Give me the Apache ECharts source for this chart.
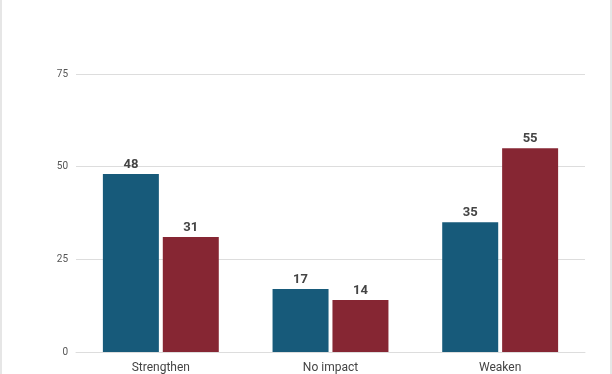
<!DOCTYPE html>
<html><head><meta charset="utf-8">
<script src="https://cdn.jsdelivr.net/npm/echarts@6/dist/echarts.min.js"></script>
<style>html,body{margin:0;padding:0;background:#fff;}
#c{width:612px;height:374px;box-sizing:border-box;border-left:2px solid #e6e6e6;border-right:2px solid #e6e6e6;}</style>
</head><body><div id="c"></div>
<script>
var categories = ["Strengthen", "No impact", "Weaken"];
var seriesA = [48, 17, 35];
var seriesB = [31, 14, 55];
var yTicks = [0, 25, 50, 75];
var chart = echarts.init(document.getElementById('c'));
var lbl = {show: true, position: 'top', fontFamily: 'Roboto', fontWeight: 'bold', fontSize: 13, color: '#444', distance: 3};
chart.setOption({
  animation: false,
  grid: {left: 74, right: 25, top: 74, bottom: 20, containLabel: false},
  xAxis: {type: 'category', data: categories,
    axisLine: {show: true, lineStyle: {color: '#ddd'}}, axisTick: {show: false},
    axisLabel: {fontFamily: 'Roboto', fontSize: 12, color: '#444', margin: 10}},
  yAxis: {type: 'value', min: yTicks[0], max: yTicks[yTicks.length-1], interval: 25,
    axisLine: {show: false}, axisTick: {show: false},
    splitLine: {lineStyle: {color: '#ddd'}},
    axisLabel: {fontFamily: 'Roboto', fontSize: 10, color: '#555', margin: 8}},
  series: [
    {type: 'bar', data: seriesA, barWidth: '33%', barGap: '7%', itemStyle: {color: '#175a7a'}, label: lbl},
    {type: 'bar', data: seriesB, barWidth: '33%', barGap: '7%', itemStyle: {color: '#862633'}, label: lbl}
  ]
});
</script></body></html>
